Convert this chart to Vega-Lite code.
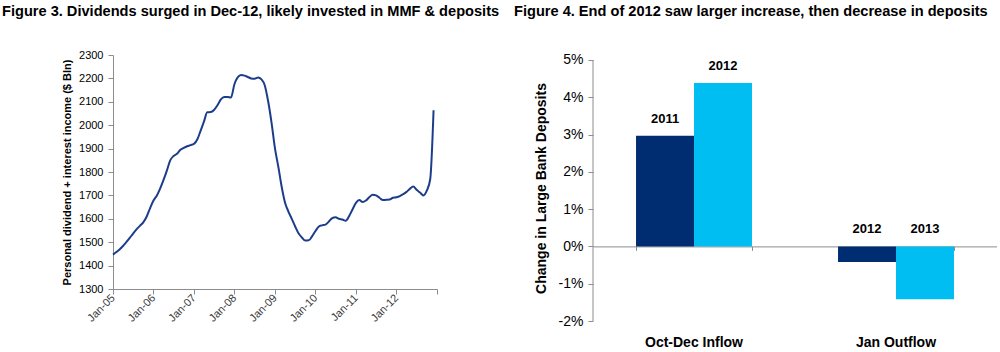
{
  "$schema": "https://vega.github.io/schema/vega-lite/v6.json",
  "padding": {"left": 2, "top": 3, "right": 0, "bottom": 0},
  "autosize": {"type": "pad"},
  "background": "white",
  "spacing": 14,
  "bounds": "full",
  "config": {
    "view": {"stroke": null},
    "font": "Liberation Sans",
    "axis": {
      "grid": false,
      "domainColor": "#8c8c8c",
      "tickColor": "#8c8c8c",
      "tickSize": 5,
      "labelColor": "#000000",
      "titleColor": "#000000",
      "labelFont": "Liberation Sans",
      "titleFont": "Liberation Sans",
      "titleFontWeight": "bold"
    }
  },
  "hconcat": [
    {
      "width": 324,
      "height": 234,
      "title": {
        "text": "Figure 3. Dividends surged in Dec-12, likely invested in MMF & deposits",
        "anchor": "start",
        "frame": "group",
        "dx": -111,
        "offset": 30.9,
        "font": "Liberation Sans",
        "fontSize": 14.6,
        "fontWeight": "bold",
        "baseline": "top",
        "color": "#000000"
      },
      "data": {
        "values": [
          {"d": "2005-01-01", "v": 1447}, {"d": "2005-02-01", "v": 1458}, {"d": "2005-03-01", "v": 1469},
          {"d": "2005-04-01", "v": 1484}, {"d": "2005-05-01", "v": 1500}, {"d": "2005-06-01", "v": 1518},
          {"d": "2005-07-01", "v": 1537}, {"d": "2005-08-01", "v": 1555}, {"d": "2005-09-01", "v": 1570},
          {"d": "2005-10-01", "v": 1585}, {"d": "2005-11-01", "v": 1610}, {"d": "2005-12-01", "v": 1645},
          {"d": "2006-01-01", "v": 1678}, {"d": "2006-02-01", "v": 1700}, {"d": "2006-03-01", "v": 1728},
          {"d": "2006-04-01", "v": 1765}, {"d": "2006-05-01", "v": 1805}, {"d": "2006-06-01", "v": 1850},
          {"d": "2006-07-01", "v": 1868}, {"d": "2006-08-01", "v": 1878}, {"d": "2006-09-01", "v": 1895},
          {"d": "2006-10-01", "v": 1903}, {"d": "2006-11-01", "v": 1910}, {"d": "2006-12-01", "v": 1915},
          {"d": "2007-01-01", "v": 1920}, {"d": "2007-02-01", "v": 1940}, {"d": "2007-03-01", "v": 1975},
          {"d": "2007-04-01", "v": 2015}, {"d": "2007-05-01", "v": 2055}, {"d": "2007-06-01", "v": 2056},
          {"d": "2007-07-01", "v": 2065}, {"d": "2007-08-01", "v": 2085}, {"d": "2007-09-01", "v": 2110},
          {"d": "2007-10-01", "v": 2121}, {"d": "2007-11-01", "v": 2121}, {"d": "2007-12-01", "v": 2118},
          {"d": "2008-01-01", "v": 2175}, {"d": "2008-02-01", "v": 2205}, {"d": "2008-03-01", "v": 2214},
          {"d": "2008-04-01", "v": 2212}, {"d": "2008-05-01", "v": 2206}, {"d": "2008-06-01", "v": 2200},
          {"d": "2008-07-01", "v": 2199}, {"d": "2008-08-01", "v": 2204}, {"d": "2008-09-01", "v": 2196},
          {"d": "2008-10-01", "v": 2170}, {"d": "2008-11-01", "v": 2100}, {"d": "2008-12-01", "v": 2010},
          {"d": "2009-01-01", "v": 1900}, {"d": "2009-02-01", "v": 1820}, {"d": "2009-03-01", "v": 1740},
          {"d": "2009-04-01", "v": 1670}, {"d": "2009-05-01", "v": 1632}, {"d": "2009-06-01", "v": 1600},
          {"d": "2009-07-01", "v": 1568}, {"d": "2009-08-01", "v": 1538}, {"d": "2009-09-01", "v": 1520},
          {"d": "2009-10-01", "v": 1507}, {"d": "2009-11-01", "v": 1508}, {"d": "2009-12-01", "v": 1525},
          {"d": "2010-01-01", "v": 1548}, {"d": "2010-02-01", "v": 1567}, {"d": "2010-03-01", "v": 1572},
          {"d": "2010-04-01", "v": 1575}, {"d": "2010-05-01", "v": 1588}, {"d": "2010-06-01", "v": 1603},
          {"d": "2010-07-01", "v": 1607}, {"d": "2010-08-01", "v": 1600}, {"d": "2010-09-01", "v": 1597},
          {"d": "2010-10-01", "v": 1592}, {"d": "2010-11-01", "v": 1612}, {"d": "2010-12-01", "v": 1640},
          {"d": "2011-01-01", "v": 1668}, {"d": "2011-02-01", "v": 1680}, {"d": "2011-03-01", "v": 1672},
          {"d": "2011-04-01", "v": 1678}, {"d": "2011-05-01", "v": 1692}, {"d": "2011-06-01", "v": 1703},
          {"d": "2011-07-01", "v": 1700}, {"d": "2011-08-01", "v": 1690}, {"d": "2011-09-01", "v": 1680},
          {"d": "2011-10-01", "v": 1681}, {"d": "2011-11-01", "v": 1682}, {"d": "2011-12-01", "v": 1690},
          {"d": "2012-01-01", "v": 1692}, {"d": "2012-02-01", "v": 1697}, {"d": "2012-03-01", "v": 1705},
          {"d": "2012-04-01", "v": 1715}, {"d": "2012-05-01", "v": 1728}, {"d": "2012-06-01", "v": 1738},
          {"d": "2012-07-01", "v": 1724}, {"d": "2012-08-01", "v": 1712}, {"d": "2012-09-01", "v": 1700},
          {"d": "2012-10-01", "v": 1720}, {"d": "2012-11-01", "v": 1770}, {"d": "2012-12-01", "v": 2064}
        ]
      },
      "mark": {"type": "line", "color": "#1d3d8b", "strokeWidth": 2, "interpolate": "monotone"},
      "encoding": {
        "x": {
          "field": "d",
          "type": "temporal",
          "scale": {
            "type": "utc",
            "domain": [
              {"year": 2005, "month": 1, "date": 1, "utc": true},
              {"year": 2013, "month": 1, "date": 1, "utc": true}
            ],
            "nice": false
          },
          "axis": {
            "title": null,
            "tickCount": {"interval": "year", "step": 1},
            "labelExpr": "utcyear(datum.value) >= 2013 ? '' : utcFormat(datum.value, '%b-%y')",
            "labelAngle": -45,
            "labelAlign": "right",
            "labelBaseline": "middle",
            "labelPadding": 2,
            "labelFontSize": 11,
            "labelColor": "#3a3a3a",
            "labelOverlap": false
          }
        },
        "y": {
          "field": "v",
          "type": "quantitative",
          "scale": {"domain": [1300, 2300], "nice": false, "zero": false},
          "axis": {
            "title": "Personal dividend + interest income ($ Bln)",
            "titleFontSize": 11,
            "titlePadding": 6,
            "values": [1300, 1400, 1500, 1600, 1700, 1800, 1900, 2000, 2100, 2200, 2300],
            "format": "d",
            "labelFontSize": 11,
            "labelPadding": 5,
            "labelOverlap": false
          }
        }
      }
    },
    {
      "width": 404,
      "height": 266,
      "title": {
        "text": "Figure 4. End of 2012 saw larger increase, then decrease in deposits",
        "anchor": "start",
        "frame": "group",
        "dx": -79,
        "offset": 34.4,
        "font": "Liberation Sans",
        "fontSize": 14.6,
        "fontWeight": "bold",
        "baseline": "top",
        "color": "#000000"
      },
      "data": {
        "values": [
          {"cat": "Oct-Dec Inflow", "s": "first", "yr": "2011", "v": 2.97},
          {"cat": "Oct-Dec Inflow", "s": "second", "yr": "2012", "v": 4.38},
          {"cat": "Jan Outflow", "s": "first", "yr": "2012", "v": -0.42},
          {"cat": "Jan Outflow", "s": "second", "yr": "2013", "v": -1.42}
        ]
      },
      "transform": [{"calculate": "max(datum.v, 0)", "as": "ly"}],
      "layer": [
        {
          "layer": [
            {
              "mark": {"type": "bar"},
              "encoding": {
                "x": {
                  "field": "cat",
                  "type": "nominal",
                  "sort": null,
                  "scale": {"paddingInner": 0.426, "paddingOuter": 0.213},
                  "axis": {
                    "orient": "bottom",
                    "title": null,
                    "domain": false,
                    "ticks": false,
                    "labelAngle": 0,
                    "labelFontSize": 14,
                    "labelFontWeight": "bold",
                    "labelPadding": 14
                  }
                },
                "xOffset": {"field": "s", "type": "nominal", "sort": null, "scale": {"paddingInner": 0, "paddingOuter": 0}},
                "y": {
                  "field": "v",
                  "type": "quantitative",
                  "scale": {"domain": [-2, 5.134], "nice": false},
                  "axis": {
                    "title": "Change in Large Bank Deposits",
                    "titleFontSize": 14,
                    "titlePadding": 10,
                    "values": [-2, -1, 0, 1, 2, 3, 4, 5],
                    "labelExpr": "datum.value + '%'",
                    "labelFontSize": 14,
                    "labelPadding": 5,
                    "labelOverlap": false,
                    "domain": false
                  }
                },
                "color": {
                  "field": "s",
                  "type": "nominal",
                  "sort": null,
                  "scale": {"range": ["#002d72", "#00bdf2"]},
                  "legend": null
                }
              }
            },
            {
              "mark": {"type": "text", "dy": -17, "fontWeight": "bold", "fontSize": 13, "color": "#000000", "baseline": "middle"},
              "encoding": {
                "x": {
                  "field": "cat",
                  "type": "nominal",
                  "sort": null,
                  "axis": {
                    "orient": "bottom",
                    "title": null,
                    "labels": false,
                    "domain": true,
                    "ticks": true,
                    "tickBand": "extent",
                    "tickSize": 4,
                    "offset": -74.6
                  }
                },
                "xOffset": {"field": "s", "type": "nominal", "sort": null},
                "y": {
                  "field": "ly",
                  "type": "quantitative",
                  "axis": {
                    "title": "Change in Large Bank Deposits",
                    "titleFontSize": 14,
                    "titlePadding": 10,
                    "values": [-2, -1, 0, 1, 2, 3, 4, 5],
                    "labelExpr": "datum.value + '%'",
                    "labelFontSize": 14,
                    "labelPadding": 5,
                    "labelOverlap": false,
                    "domain": false
                  }
                },
                "text": {"field": "yr"}
              }
            }
          ],
          "resolve": {"axis": {"x": "independent"}}
        },
        {
          "data": {"values": [{"axisline": "y"}]},
          "mark": {"type": "rule", "color": "#8c8c8c", "strokeWidth": 1},
          "encoding": {
            "x": {"datum": 0, "type": "quantitative", "scale": {"domain": [0, 1]}, "axis": null},
            "y": {
              "datum": -2,
              "type": "quantitative",
              "axis": {
                "title": "Change in Large Bank Deposits",
                "titleFontSize": 14,
                "titlePadding": 10,
                "values": [-2, -1, 0, 1, 2, 3, 4, 5],
                "labelExpr": "datum.value + '%'",
                "labelFontSize": 14,
                "labelPadding": 5,
                "labelOverlap": false,
                "domain": false
              }
            },
            "y2": {"datum": 5}
          }
        }
      ],
      "resolve": {"scale": {"x": "independent"}, "axis": {"x": "independent"}}
    }
  ]
}
